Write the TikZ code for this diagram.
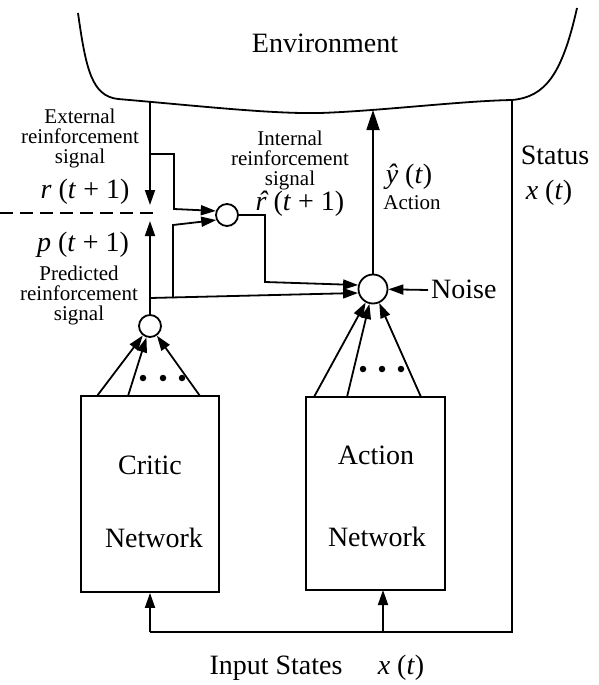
\documentclass[tikz,border=0pt]{standalone}
\usepackage{fontspec}
\setmainfont{Liberation Serif}
\usetikzlibrary{arrows.meta}
\newcommand{\rhatsym}{\ooalign{r\cr\hidewidth\kern0.12em\char"02C6\hidewidth\cr}}
\begin{document}
\begin{tikzpicture}[x=1pt,y=-1pt,
  line/.style={line width=1.8pt},
  arr/.style={line, -{Triangle[length=15pt,width=10pt]}},
  bigarr/.style={line, -{Triangle[length=20pt,width=13pt]}},
  big/.style={font=\fontsize{28}{30}\selectfont, inner sep=0pt},
  small/.style={font=\fontsize{21}{20}\selectfont, inner sep=0pt, align=center},
  sumnode/.style={circle, draw, line width=1.8pt, inner sep=0pt, minimum size=22pt},
  netbox/.style={draw, line width=1.8pt, minimum width=138pt, minimum height=196pt},
  dotmark/.style={circle, fill, inner sep=0pt, minimum size=6.5pt}
]
\useasboundingbox (0,0) rectangle (599,685);

% Environment
\draw[line] (78,13) .. controls (86,70) and (92,96) .. (118,99)
  .. controls (200,106) and (270,114) .. (320,113)
  .. controls (380,111) and (460,101) .. (512,100)
  .. controls (545,97) and (562,75) .. (577,8);
\node[big] (envtxt) at (325,43) {Environment};
\coordinate (envL) at (150,102);
\coordinate (envA) at (373,110);
\coordinate (envS) at (512,100);

% nodes
\node[sumnode] (sum1) at (227,215) {};
\node[sumnode] (cc) at (150,326) {};
\node[sumnode, minimum size=29pt] (ac) at (373,289) {};
\node[netbox] (critic) at (150,494) {};
\node[netbox, minimum width=139pt, minimum height=193pt] (action) at (375.5,493.5) {};

% external reinforcement
\coordinate (rtip) at (150,205);
\draw[arr] (envL) -- (rtip);
\coordinate (br1) at (150,154);
\draw[arr] (br1) -- (174,154) -- (174,209) -- (sum1.160);

% predicted reinforcement
\coordinate (ptip) at (150,221);
\draw[arr] (cc) -- (ptip);
\coordinate (br2) at (150,298);
\coordinate (br3) at (173,298);
\draw[arr] (br3) -- (173,225) -- (sum1.205);
\draw[arr] (br2) -- (ac.195);

% internal reinforcement to action unit
\draw[arr] (sum1.east) -- (265,215) -- (265,282) -- (ac.165);

% action output
\draw[bigarr] (ac) -- (envA);

% noise
\coordinate (noisept) at (428,290);
\draw[arr] (noisept) -- (ac);

% dashed line
\draw[line width=1.5pt, dash pattern=on 13pt off 7pt] (0,213) -- (160,213);

% status / input states
\coordinate (bl) at (150,632);
\coordinate (ain) at (383,632);
\draw[line] (envS) -- (512,632) -- (bl);
\draw[arr] (bl) -- (critic.south);
\draw[arr] (ain) -- (383,590);

% fan-in arrows
\draw[arr] (97,396) -- (cc);
\draw[arr] (128,396) -- (cc);
\draw[arr] (200,396) -- (cc);
\draw[arr] (314,397) -- (ac);
\draw[arr] (347,397) -- (ac);
\draw[arr] (421,397) -- (ac);

% dots
\node[dotmark] (d1) at (143,378) {};
\node[dotmark] (d2) at (163,378) {};
\node[dotmark] (d3) at (182,378) {};
\node[dotmark] (d4) at (363,369) {};
\node[dotmark] (d5) at (382,369) {};
\node[dotmark] (d6) at (401,369) {};

% labels
\node[small] (ext) at (80,138) {External\\reinforcement\\signal};
\node[big] (rlab) at (85,192) {\textit{r} (\textit{t} + 1)};
\node[big] (plab) at (83,245) {\textit{p} (\textit{t} + 1)};
\node[small] (pred) at (79,295) {Predicted\\reinforcement\\signal};
\node[small] (intl) at (290,160) {Internal\\reinforcement\\signal};
\node[big] (rhat) at (300,204) {\textit{\rhatsym} (\textit{t} + 1)};
\node[big] (yhat) at (409,177) {\textit{\^{y}} (\textit{t})};
\node[small] (actlab) at (412,203) {Action};
\node[big] (status) at (555,155) {Status};
\node[big] (xs) at (549,193) {\textit{x} (\textit{t})};
\node[big, anchor=west] (noise) at (431,289) {Noise};
\node[big] (ct1) at (150,465) {Critic};
\node[big] (ct2) at (154,538) {Network};
\node[big] (at1) at (376,455) {Action};
\node[big] (at2) at (377,537) {Network};
\node[big] (inp) at (276,668) {Input States};
\node[big] (xin) at (401,668) {\textit{x} (\textit{t})};
\end{tikzpicture}
\end{document}
